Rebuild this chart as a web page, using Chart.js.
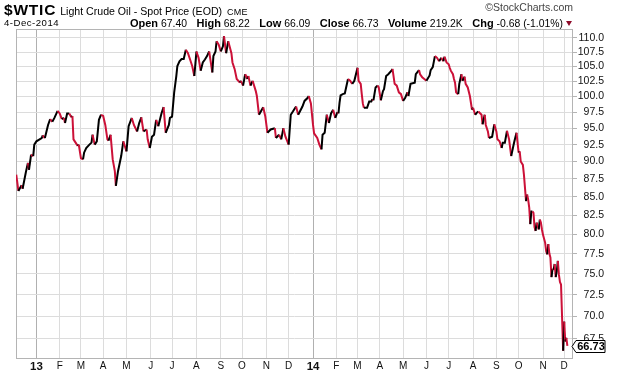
<!DOCTYPE html>
<html>
<head>
<meta charset="utf-8">
<script src="https://cdn.jsdelivr.net/npm/chart.js@4.4.1/dist/chart.umd.min.js"></script>
<style>
  html, body { margin: 0; padding: 0; background: #fff; }
  body { width: 620px; height: 376px; position: relative; overflow: hidden; font-family: "Liberation Sans", Arial, sans-serif; color: #000; }
  #wrap { position: absolute; left: 0; top: 0; width: 620px; height: 376px; }
  .hd { position: absolute; white-space: nowrap; }
  #l1 { left: 4px; top: 2px; line-height: 16px; }
  #l1 .sym { font-weight: bold; font-size: 15.5px; letter-spacing: 0.8px; }
  #l1 .nm { font-size: 10.6px; margin-left: 1px; }
  #l1 .ex { font-size: 9px; margin-left: 2px; letter-spacing: 0.3px; }
  #l2 { left: 4px; top: 17px; line-height: 12px; font-size: 9.6px; letter-spacing: 0.5px; }
  #stats { right: 57px; top: 17px; line-height: 12px; font-size: 10.4px; }
  #stats b { font-size: 11px; margin-left: 9.5px; }
  #stats b:first-child { margin-left: 0; }
  #tri { position: absolute; left: 566px; top: 21px; width: 0; height: 0; border-left: 3.5px solid transparent; border-right: 3.5px solid transparent; border-top: 5px solid #8e0b2a; }
  #copy { right: 47px; top: 1px; line-height: 12px; font-size: 10.5px; color: #444; }
</style>
</head>
<body>
<div id="wrap"><canvas id="c" width="620" height="376"></canvas></div>
<div class="hd" id="l1"><span class="sym">$WTIC</span><span class="nm"> Light Crude Oil - Spot Price (EOD)</span><span class="ex"> CME</span></div>
<div class="hd" id="l2">4-Dec-2014</div>
<div class="hd" id="stats"><b>Open</b> 67.40<b>High</b> 68.22<b>Low</b> 66.09<b>Close</b> 66.73<b>Volume</b> 219.2K<b>Chg</b> -0.68 (-1.01%)</div>
<div id="tri"></div>
<div class="hd" id="copy">&copy;StockCharts.com</div>
<script>
// ---- data ----
const dates = [
'2012-12-06','2012-12-10','2012-12-13','2012-12-14','2012-12-19','2012-12-21','2012-12-24','2012-12-26','2012-12-28','2012-12-31',
'2013-01-02','2013-01-09','2013-01-10','2013-01-14','2013-01-17','2013-01-21','2013-01-23','2013-01-25','2013-01-30','2013-02-01',
'2013-02-05','2013-02-07','2013-02-08','2013-02-12','2013-02-14','2013-02-18','2013-02-19','2013-02-20','2013-02-22','2013-02-26',
'2013-02-27','2013-03-01','2013-03-05','2013-03-06','2013-03-08','2013-03-13','2013-03-15','2013-03-18','2013-03-20','2013-03-22',
'2013-03-26','2013-03-28','2013-04-01','2013-04-03','2013-04-05','2013-04-08','2013-04-10','2013-04-12','2013-04-16','2013-04-17',
'2013-04-19','2013-04-22','2013-04-24','2013-04-26','2013-05-01','2013-05-03','2013-05-08','2013-05-10','2013-05-15','2013-05-17',
'2013-05-21','2013-05-23','2013-05-28','2013-05-29','2013-05-31','2013-06-04','2013-06-06','2013-06-10','2013-06-12','2013-06-17',
'2013-06-19','2013-06-21','2013-06-26','2013-06-27','2013-07-01','2013-07-03','2013-07-05','2013-07-08','2013-07-10','2013-07-12',
'2013-07-16','2013-07-18','2013-07-22','2013-07-24','2013-07-26','2013-07-30','2013-08-01','2013-08-05','2013-08-07','2013-08-09',
'2013-08-13','2013-08-15','2013-08-19','2013-08-22','2013-08-23','2013-08-27','2013-08-28','2013-08-30','2013-09-03','2013-09-05',
'2013-09-06','2013-09-10','2013-09-12','2013-09-17','2013-09-18','2013-09-20','2013-09-24','2013-09-27','2013-09-30','2013-10-02',
'2013-10-04','2013-10-08','2013-10-09','2013-10-11','2013-10-15','2013-10-18','2013-10-21','2013-10-23','2013-10-29','2013-10-31',
'2013-11-04','2013-11-07','2013-11-13','2013-11-14','2013-11-19','2013-11-21','2013-11-25','2013-11-27','2013-12-02','2013-12-04',
'2013-12-06','2013-12-11','2013-12-13','2013-12-19','2013-12-23','2013-12-26','2013-12-27','2013-12-31','2014-01-02','2014-01-03',
'2014-01-08','2014-01-10','2014-01-14','2014-01-15','2014-01-17','2014-01-21','2014-01-23','2014-01-27','2014-01-29','2014-01-31',
'2014-02-04','2014-02-05','2014-02-06','2014-02-07','2014-02-11','2014-02-13','2014-02-18','2014-02-20','2014-02-24','2014-02-26',
'2014-03-03','2014-03-04','2014-03-06','2014-03-07','2014-03-10','2014-03-11','2014-03-14','2014-03-18','2014-03-20','2014-03-21',
'2014-03-24','2014-03-26','2014-03-28','2014-03-31','2014-04-02','2014-04-04','2014-04-07','2014-04-09','2014-04-11','2014-04-16',
'2014-04-17','2014-04-21','2014-04-23','2014-04-25','2014-04-29','2014-05-01','2014-05-05','2014-05-07','2014-05-08','2014-05-12',
'2014-05-14','2014-05-16','2014-05-19','2014-05-22','2014-05-23','2014-05-27','2014-05-29','2014-06-02','2014-06-05','2014-06-06',
'2014-06-10','2014-06-12','2014-06-16','2014-06-18','2014-06-20','2014-06-24','2014-06-25','2014-06-27','2014-07-01','2014-07-02',
'2014-07-03','2014-07-07','2014-07-08','2014-07-09','2014-07-10','2014-07-11','2014-07-14','2014-07-15','2014-07-17','2014-07-18',
'2014-07-22','2014-07-23','2014-07-25','2014-07-29','2014-07-31','2014-08-01','2014-08-05','2014-08-07','2014-08-08','2014-08-13',
'2014-08-14','2014-08-18','2014-08-19','2014-08-21','2014-08-22','2014-08-27','2014-08-29','2014-09-02','2014-09-03','2014-09-05',
'2014-09-09','2014-09-10','2014-09-12','2014-09-16','2014-09-18','2014-09-22','2014-09-24','2014-09-25','2014-09-29','2014-10-01',
'2014-10-02','2014-10-03','2014-10-07','2014-10-08','2014-10-10','2014-10-13','2014-10-14','2014-10-15','2014-10-16','2014-10-17',
'2014-10-20','2014-10-21','2014-10-22','2014-10-23','2014-10-24','2014-10-28','2014-10-29','2014-10-30','2014-10-31','2014-11-03',
'2014-11-05','2014-11-06','2014-11-07','2014-11-10','2014-11-11','2014-11-12','2014-11-13','2014-11-14','2014-11-17','2014-11-18',
'2014-11-19','2014-11-20','2014-11-21','2014-11-24','2014-11-25','2014-11-26','2014-11-28','2014-12-01','2014-12-02','2014-12-03',
'2014-12-04'
];
const closes = [
88.1,85.8,86.6,86.1,88.4,89.8,88.8,91.0,90.8,92.5,
93.0,93.5,93.9,93.5,95.5,96.4,96.0,96.6,97.7,97.3,
96.4,96.6,95.8,97.3,97.3,96.7,96.9,93.3,92.8,92.3,
92.5,90.5,90.3,91.3,92.0,92.5,92.8,94.0,92.5,93.0,
96.3,97.1,96.9,95.5,93.3,93.1,94.0,90.3,88.6,86.5,
88.6,89.3,90.8,93.0,91.5,95.3,96.6,95.5,94.5,95.8,
96.7,94.5,94.8,93.3,92.0,93.7,94.0,96.3,95.3,97.3,
98.3,94.3,95.5,96.6,96.8,100.7,103.4,105.1,105.9,106.3,
106.3,107.9,107.3,106.2,105.1,103.4,107.6,106.5,104.3,105.7,
106.2,106.8,107.6,104.0,106.8,107.6,109.4,108.8,107.6,108.5,
110.3,107.3,109.4,107.3,105.7,104.6,102.9,102.3,102.6,101.8,
103.7,102.9,103.4,101.8,102.6,100.9,100.1,97.1,98.3,96.8,
94.3,94.8,95.0,93.5,94.0,93.3,95.0,93.7,92.5,97.1,
97.6,98.4,97.1,98.4,99.3,99.8,100.1,98.9,95.5,94.2,
93.5,92.5,91.8,94.0,94.3,97.1,95.8,97.3,97.9,96.6,
97.5,97.3,99.0,100.2,100.4,100.5,102.9,102.6,102.1,102.6,
104.8,102.6,102.1,100.4,98.9,98.2,98.2,99.2,99.2,99.6,
99.4,101.5,101.8,101.5,99.4,100.9,101.2,103.4,103.7,104.3,
104.6,102.1,101.8,100.7,100.4,99.3,99.8,100.7,100.1,102.1,
102.2,102.3,103.7,104.4,103.7,103.2,102.9,102.6,103.5,104.4,
104.9,106.8,106.5,105.9,106.5,105.9,106.7,105.7,105.4,104.8,
104.3,103.7,102.9,102.3,100.7,100.5,100.4,102.1,103.7,102.6,
103.3,102.1,101.5,100.1,97.9,98.2,97.1,97.5,97.6,97.1,
95.6,97.1,95.5,94.5,93.5,93.7,95.6,94.5,93.3,93.0,
92.0,92.8,92.8,94.6,93.3,90.8,92.3,93.0,94.3,91.3,
91.5,90.0,89.5,88.1,84.4,85.3,84.6,83.5,81.3,83.0,
83.0,82.8,80.9,80.4,81.5,80.6,81.9,81.5,80.6,79.9,
78.9,77.8,77.4,78.7,77.5,77.0,74.6,75.6,75.5,76.2,
74.6,75.3,76.6,74.9,74.0,73.7,66.2,69.4,67.2,67.6,
66.73
];
const monthTicks = ['2013-01-02','2013-02-01','2013-03-01','2013-04-01','2013-05-01','2013-06-03','2013-07-01','2013-08-01','2013-09-03','2013-10-01','2013-11-01','2013-12-02',
                    '2014-01-02','2014-02-03','2014-03-03','2014-04-01','2014-05-01','2014-06-02','2014-07-01','2014-08-01','2014-09-02','2014-10-01','2014-11-03','2014-12-01'];
const monthLabels = ['13','F','M','A','M','J','J','A','S','O','N','D','14','F','M','A','M','J','J','A','S','O','N','D'];
const yTicks = [67.5,70,72.5,75,77.5,80,82.5,85,87.5,90,92.5,95,97.5,100,102.5,105,107.5,110];
const lastClose = 66.73;

// trading-day (weekday) position of a date on the time axis
function weekdayIndex(s) {
  const t = Date.UTC(+s.slice(0,4), +s.slice(5,7) - 1, +s.slice(8,10));
  const days = Math.round((t - Date.UTC(2012, 11, 3)) / 86400000);
  return Math.floor(days / 7) * 5 + Math.min(days % 7, 5);
}

const points = dates.map((d, i) => ({ x: weekdayIndex(d), y: closes[i] }));
const tickValues = monthTicks.map(weekdayIndex);
const isYear = (i) => monthLabels[i] && monthLabels[i].length === 2;

const RED = '#cc1138';
const FONT = '"Liberation Sans", Arial, sans-serif';
Chart.defaults.font.family = FONT;

const framePlugin = {
  id: 'frame',
  beforeDatasetsDraw(chart) {
    const a = chart.chartArea, ctx = chart.ctx;
    ctx.save();
    ctx.strokeStyle = '#b4b4b4';
    ctx.lineWidth = 1;
    ctx.strokeRect(Math.round(a.left) + 0.5, Math.round(a.top) + 0.5, Math.round(a.right - a.left) - 1, Math.round(a.bottom - a.top));
    ctx.restore();
  },
  afterDraw(chart) {
    const ctx = chart.ctx, ys = chart.scales.y, a = chart.chartArea;
    const y = Math.round(ys.getPixelForValue(lastClose)) + 0.5;
    const x0 = a.right - 1, bx = x0 + 4, bw = 29, bh = 12;
    ctx.save();
    ctx.beginPath();
    ctx.moveTo(x0, y);
    ctx.lineTo(bx, y - bh / 2);
    ctx.lineTo(bx + bw, y - bh / 2);
    ctx.lineTo(bx + bw, y + bh / 2);
    ctx.lineTo(bx, y + bh / 2);
    ctx.closePath();
    ctx.fillStyle = '#fff';
    ctx.fill();
    ctx.strokeStyle = '#000';
    ctx.lineWidth = 1;
    ctx.stroke();
    ctx.fillStyle = '#000';
    ctx.font = 'bold 11px ' + FONT;
    ctx.textAlign = 'center';
    ctx.textBaseline = 'middle';
    ctx.fillText(lastClose.toFixed(2), bx + bw / 2 + 0.5, y + 0.5);
    ctx.restore();
  }
};

new Chart(document.getElementById('c'), {
  type: 'line',
  data: {
    datasets: [{
      data: points,
      borderWidth: 2,
      borderColor: RED,
      pointRadius: 0,
      tension: 0,
      fill: false,
      segment: {
        borderColor: (c) => c.p1.parsed.y >= c.p0.parsed.y ? '#000' : RED
      }
    }]
  },
  options: {
    responsive: false,
    animation: false,
    devicePixelRatio: 1,
    layout: { padding: { left: 16, top: 29, right: 16, bottom: 0 } },
    plugins: { legend: { display: false }, tooltip: { enabled: false }, title: { display: false } },
    scales: {
      x: {
        type: 'linear',
        min: 2.75,
        max: 528.3,
        afterBuildTicks: (s) => { s.ticks = tickValues.map(v => ({ value: v })); },
        afterFit: (s) => { s.height = 18; },
        grid: {
          drawTicks: false,
          color: (c) => isYear(c.index) ? '#b0b0b0' : '#dcdcdc',
          lineWidth: 1
        },
        border: { display: false },
        ticks: {
          autoSkip: false,
          maxRotation: 0,
          padding: 2,
          color: '#111',
          callback: (v, i) => monthLabels[i],
          font: (c) => isYear(c.index) ? { size: 11.5, weight: 'bold', family: FONT } : { size: 10, family: FONT }
        }
      },
      y: {
        type: 'logarithmic',
        position: 'right',
        min: 65.42,
        max: 111.6,
        afterBuildTicks: (s) => { s.ticks = yTicks.map(v => ({ value: v })); },
        afterFit: (s) => { s.width = 31; },
        grid: { color: '#dcdcdc', lineWidth: 1, drawTicks: true, tickLength: 4, tickColor: '#b4b4b4' },
        border: { display: false },
        ticks: {
          crossAlign: 'far',
          padding: 1,
          color: '#111',
          font: { size: 10.5, family: FONT },
          callback: (v) => Number(v).toFixed(1)
        }
      }
    }
  },
  plugins: [framePlugin]
});
</script>
</body>
</html>
